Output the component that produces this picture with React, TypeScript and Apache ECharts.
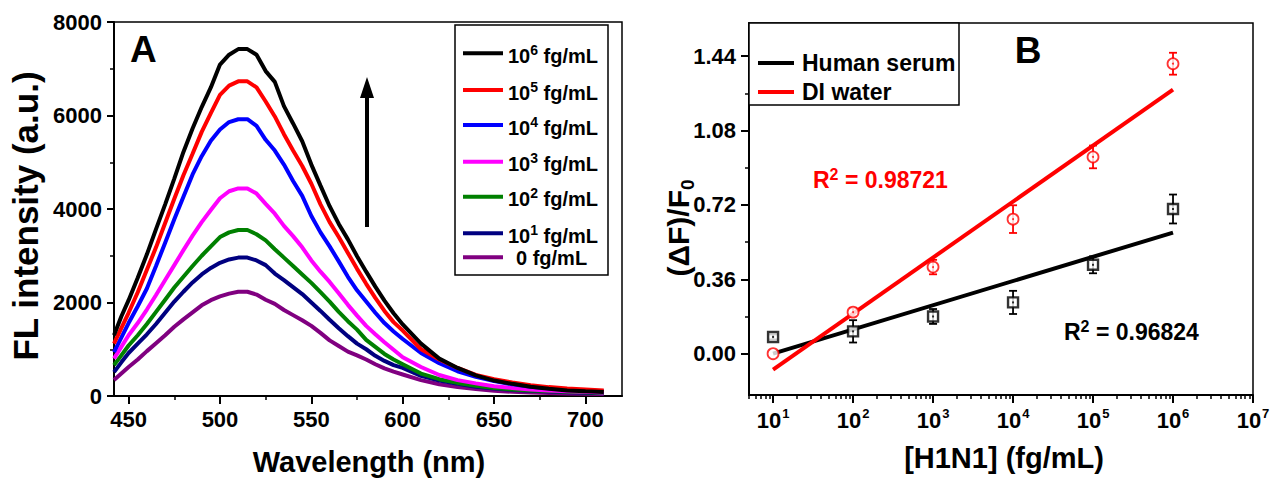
import React, { useEffect, useRef } from 'react';
import * as echarts from 'echarts';

const FONT = "'Liberation Sans', Arial, Helvetica, sans-serif";

// ---------- Panel A data: FL spectra ----------
const wavelengths = [442, 446, 450, 455, 460, 465, 470, 475, 480, 485, 490, 495, 500, 505, 510, 515, 520, 525, 530, 535, 540, 545, 550, 555, 560, 565, 570, 575, 580, 585, 590, 595, 600, 610, 620, 630, 640, 650, 660, 670, 680, 690, 700, 710];
const fl1e6 = [1300, 1700, 2050, 2530, 3030, 3570, 4100, 4650, 5220, 5720, 6180, 6600, 7090, 7300, 7420, 7420, 7300, 6950, 6720, 6200, 5830, 5450, 4950, 4500, 4060, 3680, 3350, 2990, 2660, 2340, 2040, 1770, 1530, 1120, 800, 600, 440, 330, 260, 200, 155, 120, 100, 85];
const fl1e5 = [1120, 1450, 1780, 2220, 2700, 3180, 3700, 4220, 4720, 5180, 5650, 6050, 6440, 6640, 6730, 6730, 6600, 6300, 5980, 5600, 5250, 4920, 4540, 4100, 3720, 3400, 3060, 2720, 2400, 2100, 1820, 1580, 1400, 1000, 780, 600, 450, 360, 290, 230, 190, 160, 140, 120];
const fl1e4 = [940, 1250, 1560, 1920, 2300, 2780, 3280, 3780, 4260, 4740, 5130, 5460, 5700, 5860, 5920, 5920, 5780, 5480, 5250, 4950, 4600, 4280, 3850, 3500, 3200, 2880, 2550, 2260, 2020, 1780, 1560, 1380, 1220, 920, 700, 530, 410, 320, 250, 200, 165, 140, 120, 100];
const fl1e3 = [800, 1050, 1300, 1560, 1850, 2160, 2480, 2800, 3120, 3430, 3720, 3980, 4230, 4380, 4440, 4440, 4330, 4110, 3900, 3640, 3420, 3180, 2900, 2660, 2440, 2200, 1950, 1720, 1500, 1320, 1150, 990, 830, 620, 450, 340, 270, 210, 170, 140, 120, 100, 90, 75];
const fl1e2 = [660, 870, 1080, 1300, 1540, 1800, 2060, 2320, 2550, 2780, 3000, 3200, 3400, 3500, 3550, 3550, 3460, 3330, 3140, 2960, 2780, 2600, 2420, 2220, 2020, 1800, 1600, 1420, 1200, 1050, 900, 780, 680, 480, 360, 280, 220, 170, 140, 120, 105, 90, 80, 70];
const fl1e1 = [510, 720, 920, 1120, 1320, 1540, 1780, 2020, 2230, 2430, 2600, 2740, 2850, 2920, 2960, 2960, 2900, 2800, 2620, 2480, 2330, 2180, 2000, 1820, 1630, 1450, 1280, 1120, 1000, 860, 750, 660, 600, 430, 330, 260, 200, 160, 130, 110, 95, 80, 70, 60];
const fl0 = [340, 480, 620, 780, 960, 1130, 1300, 1480, 1640, 1790, 1940, 2050, 2130, 2190, 2230, 2230, 2170, 2060, 1970, 1840, 1730, 1620, 1500, 1350, 1190, 1070, 950, 870, 780, 680, 590, 520, 460, 340, 250, 190, 150, 110, 90, 75, 65, 55, 50, 45];

const spectraNames = ['0 fg/mL', '10^1 fg/mL', '10^2 fg/mL', '10^3 fg/mL', '10^4 fg/mL', '10^5 fg/mL', '10^6 fg/mL'];
const spectraExp = ['', '1', '2', '3', '4', '5', '6'];
const spectraColors = ['#800080', '#000080', '#008000', '#ff00ff', '#0000ff', '#ff0000', '#000000'];
const spectraValues = [fl0, fl1e1, fl1e2, fl1e3, fl1e4, fl1e5, fl1e6];

const aXTicks = [450, 500, 550, 600, 650, 700];
const aXMinor = [475, 525, 575, 625, 675];

// ---------- Panel B data: calibration ----------
const concentrations = [1e1, 1e2, 1e3, 1e4, 1e5, 1e6];
const serumDF = [0.081, 0.108, 0.18, 0.248, 0.43, 0.70];
const serumErr = [0.012, 0.054, 0.036, 0.056, 0.041, 0.07];
const waterDF = [0.0, 0.201, 0.419, 0.651, 0.952, 1.403];
const waterErr = [0.0, 0.02, 0.035, 0.067, 0.055, 0.053];
const fitConc = [1e1, 1e6];
const serumFit = [0.0, 0.586];
const waterFit = [-0.077, 1.278];
const bXDecades = [1, 2, 3, 4, 5, 6, 7];
const bYTicks = [0, 0.36, 0.72, 1.08, 1.44];
const bYMinor = [0.18, 0.54, 0.9, 1.26];

const lg = (v: number) => Math.log10(v);
const bXMinor: number[] = [];
for (let d = 0; d < 7; d++) {
  for (let k = 2; k <= 9; k++) {
    const v = lg(k * Math.pow(10, d));
    if (v > lg(5) - 1e-9 && v < 7) bXMinor.push(v);
  }
}

const blackLine = { color: '#000', width: 2 };

function richText(size: number, color: string, supSize: number, supPad: number) {
  const base = { fontWeight: 'bold', fontFamily: FONT, fill: color, color };
  return {
    n: { ...base, fontSize: size, verticalAlign: 'bottom' },
    s: { ...base, fontSize: supSize, verticalAlign: 'bottom', padding: [0, 0, supPad, 0] },
    t: { ...base, fontSize: size, verticalAlign: 'top' },
    d: { ...base, fontSize: supSize, verticalAlign: 'bottom', padding: [supPad, 0, 0, 0] },
  };
}

function textEl(x: number, y: number, text: string, size: number, opts: any = {}) {
  const color = opts.color || '#000';
  return {
    type: 'text',
    x,
    y,
    z: 100,
    rotation: opts.rotation || 0,
    style: {
      text,
      fill: color,
      font: `bold ${size}px ${FONT}`,
      fontSize: size,
      fontWeight: 'bold',
      fontFamily: FONT,
      align: opts.align || 'left',
      verticalAlign: 'middle',
      rich: richText(size, color, opts.supSize || Math.round(size * 0.62), opts.supPad || 8),
    },
  };
}

function errorSeries(name: string, vals: number[], errs: number[], color: string) {
  return {
    name,
    type: 'custom',
    xAxisIndex: 2,
    yAxisIndex: 1,
    z: 3,
    data: concentrations.map((c, i) => [lg(c), vals[i], errs[i]]),
    encode: { x: 0, y: 1 },
    renderItem: (params: any, api: any) => {
      const x = api.value(0);
      const y = api.value(1);
      const e = api.value(2);
      if (!e) return { type: 'group', children: [] };
      const t = api.coord([x, y + e]);
      const b = api.coord([x, y - e]);
      const w = 4;
      const st = { stroke: color, lineWidth: 1.8 };
      return {
        type: 'group',
        children: [
          { type: 'line', shape: { x1: t[0], y1: t[1], x2: b[0], y2: b[1] }, style: st },
          { type: 'line', shape: { x1: t[0] - w, y1: t[1], x2: t[0] + w, y2: t[1] }, style: st },
          { type: 'line', shape: { x1: b[0] - w, y1: b[1], x2: b[0] + w, y2: b[1] }, style: st },
        ],
      };
    },
  };
}

function buildOption() {
  const labelStyle = { color: '#000', fontSize: 22, fontWeight: 'bold', fontFamily: FONT };

  const legendLineYs = [257.3, 233.3, 196.7, 161.7, 125, 90, 53.3];
  const graphic: any[] = [];

  // Panel A legend box
  graphic.push({ type: 'rect', z: 90, shape: { x: 455, y: 25, width: 153, height: 250 }, style: { fill: '#fff', stroke: '#000', lineWidth: 1.5 } });
  spectraNames.forEach((nm, i) => {
    const y = legendLineYs[i];
    graphic.push({ type: 'line', z: 95, shape: { x1: 463, y1: y, x2: 503, y2: y }, style: { stroke: spectraColors[i], lineWidth: 4 } });
    const txt = spectraExp[i] ? `{n|10}{s|${spectraExp[i]}}{n| fg/mL}` : '{n|0 fg/mL}';
    graphic.push(textEl(spectraExp[i] ? 508 : 516, y + 1, txt, 20, { supSize: 14, supPad: 9 }));
  });

  // Arrow in panel A
  graphic.push({ type: 'line', z: 95, shape: { x1: 367, y1: 227, x2: 367, y2: 95 }, style: { stroke: '#000', lineWidth: 4 } });
  graphic.push({ type: 'polygon', z: 95, shape: { points: [[360, 98], [374, 98], [367, 77]] }, style: { fill: '#000' } });

  // Panel labels
  graphic.push(textEl(130, 49, 'A', 37));
  graphic.push(textEl(1028, 50, 'B', 37, { align: 'center' }));

  // Axis titles
  graphic.push(textEl(25, 216, 'FL intensity (a.u.)', 35, { rotation: Math.PI / 2, align: 'center' }));
  graphic.push(textEl(369, 462, 'Wavelength (nm)', 29, { align: 'center' }));
  graphic.push(textEl(680, 228, '{t|(ΔF)/F}{d|0}', 30, { rotation: Math.PI / 2, align: 'center', supSize: 19, supPad: 14 }));
  graphic.push(textEl(1004, 458, '[H1N1] (fg/mL)', 29, { align: 'center' }));

  // Panel B legend box
  graphic.push({ type: 'rect', z: 90, shape: { x: 749, y: 23, width: 210, height: 82 }, style: { fill: '#fff', stroke: '#000', lineWidth: 1.5 } });
  graphic.push({ type: 'line', z: 95, shape: { x1: 758, y1: 63, x2: 794, y2: 63 }, style: { stroke: '#000', lineWidth: 4 } });
  graphic.push({ type: 'line', z: 95, shape: { x1: 758, y1: 92, x2: 794, y2: 92 }, style: { stroke: '#ff0000', lineWidth: 4 } });
  graphic.push(textEl(802, 63, 'Human serum', 23));
  graphic.push(textEl(802, 92, 'DI water', 23));

  // R^2 annotations
  graphic.push(textEl(813, 179, '{n|R}{s|2}{n| = 0.98721}', 23, { color: '#ff0000', supSize: 16, supPad: 9 }));
  graphic.push(textEl(1064, 331, '{n|R}{s|2}{n| = 0.96824}', 23, { supSize: 16, supPad: 9 }));

  const spectraSeries = spectraNames.map((nm, i) => ({
    name: nm,
    type: 'line',
    xAxisIndex: 0,
    yAxisIndex: 0,
    showSymbol: false,
    symbol: 'none',
    smooth: false,
    lineStyle: { color: spectraColors[i], width: 4 },
    itemStyle: { color: spectraColors[i] },
    z: 2 + i * 0.01,
    data: wavelengths.map((w, j) => [w, spectraValues[i][j]]),
  }));

  return {
    animation: false,
    backgroundColor: '#fff',
    grid: [
      { left: 114, top: 22, width: 508, height: 374, show: true, borderColor: '#000', borderWidth: 1.5, backgroundColor: 'transparent' },
      { left: 749, top: 23, width: 504, height: 372, show: true, borderColor: '#000', borderWidth: 1.5, backgroundColor: 'transparent' },
    ],
    xAxis: [
      {
        gridIndex: 0, type: 'value', position: 'bottom', min: 442, max: 720,
        axisLine: { show: true, onZero: false, lineStyle: blackLine },
        axisTick: { show: true, customValues: aXTicks, length: 8, lineStyle: blackLine },
        axisLabel: { ...labelStyle, customValues: aXTicks, margin: 12 },
        splitLine: { show: false },
      },
      {
        gridIndex: 0, type: 'value', position: 'bottom', offset: 0, min: 442, max: 720,
        axisLine: { show: false, onZero: false },
        axisTick: { show: true, customValues: aXMinor, length: 4, lineStyle: { color: '#000', width: 1.5 } },
        axisLabel: { show: false },
        splitLine: { show: false },
      },
      {
        gridIndex: 1, type: 'value', position: 'bottom', min: lg(5), max: 7,
        axisLine: { show: true, onZero: false, lineStyle: blackLine },
        axisTick: { show: true, customValues: bXDecades, length: 8, lineStyle: blackLine },
        axisLabel: {
          customValues: bXDecades,
          margin: 12,
          formatter: (v: number) => `{b|10}{s|${Math.round(v)}}`,
          rich: {
            b: { fontSize: 22, fontWeight: 'bold', fontFamily: FONT, color: '#000', verticalAlign: 'bottom' },
            s: { fontSize: 13, fontWeight: 'bold', fontFamily: FONT, color: '#000', verticalAlign: 'bottom', padding: [0, 0, 11, 1] },
          },
        },
        splitLine: { show: false },
      },
      {
        gridIndex: 1, type: 'value', position: 'bottom', offset: 0, min: lg(5), max: 7,
        axisLine: { show: false, onZero: false },
        axisTick: { show: true, customValues: bXMinor, length: 4, lineStyle: { color: '#000', width: 1.5 } },
        axisLabel: { show: false },
        splitLine: { show: false },
      },
    ],
    yAxis: [
      {
        gridIndex: 0, type: 'value', position: 'left', min: 0, max: 8000, interval: 2000,
        axisLine: { show: true, onZero: false, lineStyle: blackLine },
        axisTick: { show: true, length: 7, lineStyle: blackLine },
        minorTick: { show: true, splitNumber: 2, length: 4, lineStyle: { color: '#000', width: 1.5 } },
        axisLabel: { ...labelStyle, margin: 12, formatter: (v: number) => String(v) },
        splitLine: { show: false },
        minorSplitLine: { show: false },
      },
      {
        gridIndex: 1, type: 'value', position: 'left', min: -0.2, max: 1.6,
        axisLine: { show: true, onZero: false, lineStyle: blackLine },
        axisTick: { show: true, customValues: bYTicks, length: 8, lineStyle: blackLine },
        axisLabel: { ...labelStyle, customValues: bYTicks, margin: 13, formatter: (v: number) => v.toFixed(2) },
        splitLine: { show: false },
      },
      {
        gridIndex: 1, type: 'value', position: 'left', offset: 0, min: -0.2, max: 1.6,
        axisLine: { show: false, onZero: false },
        axisTick: { show: true, customValues: bYMinor, length: 4, lineStyle: { color: '#000', width: 1.5 } },
        axisLabel: { show: false },
        splitLine: { show: false },
      },
    ],
    graphic,
    series: [
      ...spectraSeries,
      {
        name: 'Human serum', type: 'line', xAxisIndex: 2, yAxisIndex: 1, showSymbol: false, symbol: 'none', z: 4,
        lineStyle: { color: '#000', width: 4 }, itemStyle: { color: '#000' },
        data: fitConc.map((c, i) => [lg(c), serumFit[i]]),
      },
      {
        name: 'DI water', type: 'line', xAxisIndex: 2, yAxisIndex: 1, showSymbol: false, symbol: 'none', z: 4,
        lineStyle: { color: '#ff0000', width: 4 }, itemStyle: { color: '#ff0000' },
        data: fitConc.map((c, i) => [lg(c), waterFit[i]]),
      },
      errorSeries('Human serum error', serumDF, serumErr, '#000'),
      errorSeries('DI water error', waterDF, waterErr, '#ff0000'),
      {
        name: 'Human serum data', type: 'scatter', xAxisIndex: 2, yAxisIndex: 1, z: 6,
        symbol: 'rect', symbolSize: 10,
        itemStyle: { color: '#fff', borderColor: '#000', borderWidth: 2.4 },
        data: concentrations.map((c, i) => [lg(c), serumDF[i]]),
      },
      {
        name: 'Human serum dot', type: 'scatter', xAxisIndex: 2, yAxisIndex: 1, z: 7,
        symbol: 'rect', symbolSize: 2, itemStyle: { color: '#000' },
        data: concentrations.map((c, i) => [lg(c), serumDF[i]]),
      },
      {
        name: 'DI water data', type: 'scatter', xAxisIndex: 2, yAxisIndex: 1, z: 6,
        symbol: 'circle', symbolSize: 11,
        itemStyle: { color: '#fff', borderColor: '#ff0000', borderWidth: 1.8 },
        data: concentrations.map((c, i) => [lg(c), waterDF[i]]),
      },
      {
        name: 'DI water dot', type: 'scatter', xAxisIndex: 2, yAxisIndex: 1, z: 7,
        symbol: 'circle', symbolSize: 2, itemStyle: { color: '#ff0000' },
        data: concentrations.map((c, i) => [lg(c), waterDF[i]]).slice(1),
      },
    ],
  };
}

export default function App() {
  const ref = useRef<HTMLDivElement>(null);
  useEffect(() => {
    if (!ref.current) return;
    const chart = echarts.init(ref.current, null, { renderer: 'svg' });
    chart.setOption(buildOption() as any);
    return () => chart.dispose();
  }, []);
  return (
    <div
      ref={ref}
      style={{ position: 'fixed', left: 0, top: 0, width: 1274, height: 478, background: '#fff' }}
    />
  );
}
